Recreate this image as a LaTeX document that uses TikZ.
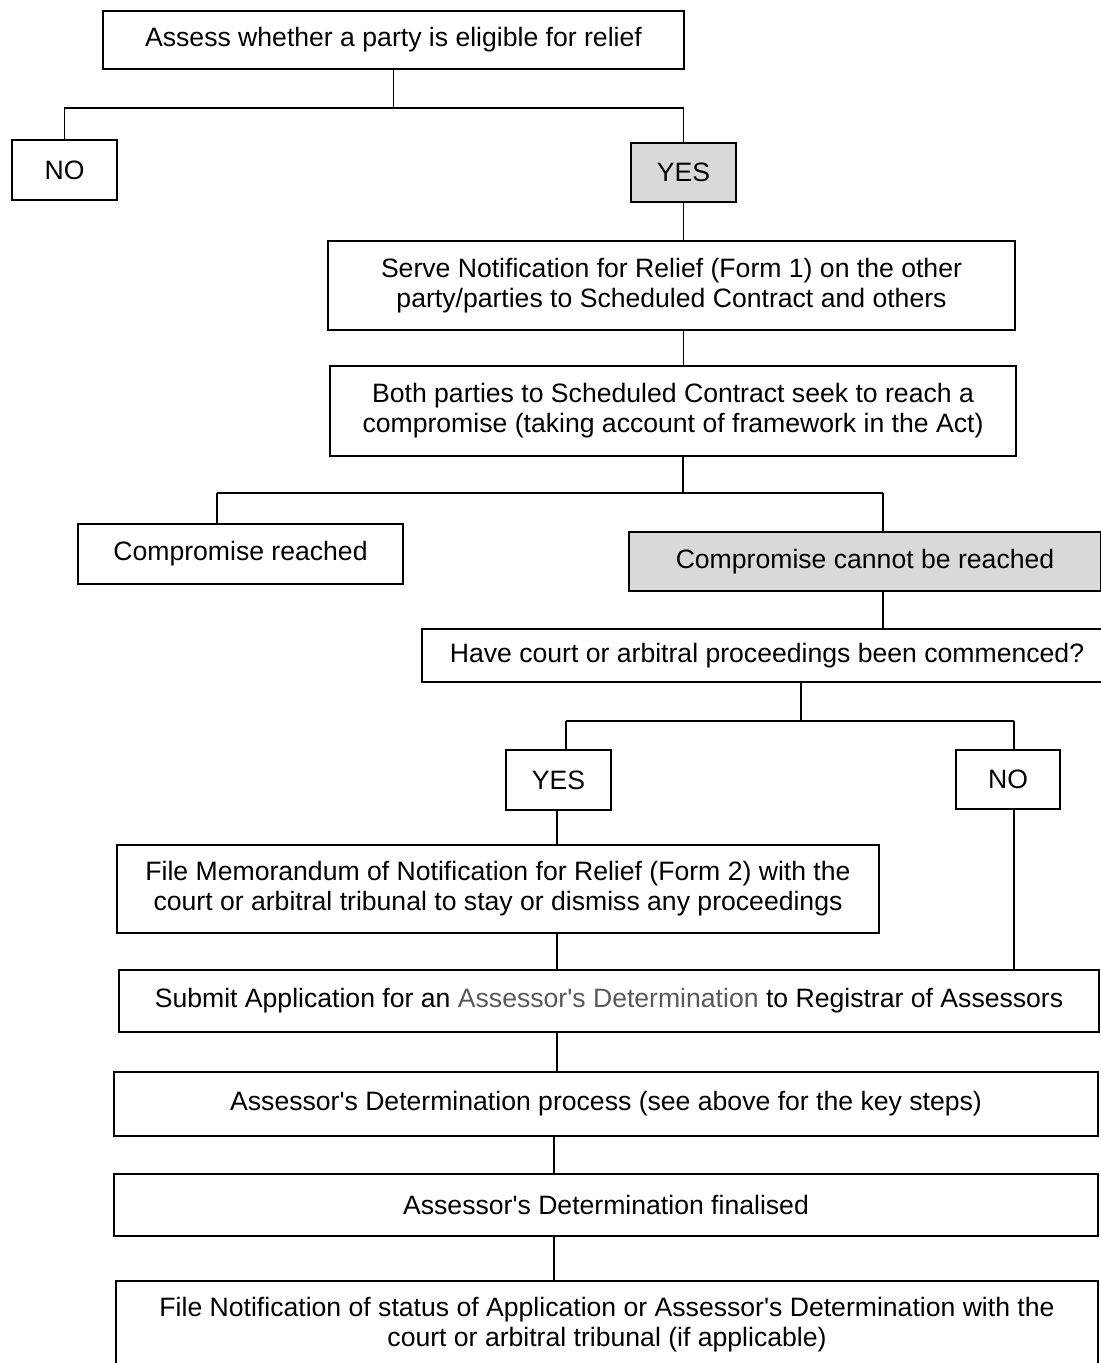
\documentclass[tikz,border=0pt]{standalone}
\usepackage{fontspec}
\newfontfamily\arial{Liberation Sans}
\definecolor{boxgray}{HTML}{D9D9D9}
\definecolor{textgray}{HTML}{595959}
\begin{document}
\begin{tikzpicture}[x=0.5pt, y=-0.5pt]
        \tikzstyle{box}=[draw=black, line width=1.2pt, inner sep=0pt, align=center, font=\arial\fontsize{13.3}{15}\selectfont]
        \tikzstyle{grey}=[box, fill=boxgray]
        \tikzstyle{link}=[line width=0.65pt]

        \useasboundingbox (0,0) rectangle (1101,1363);

        \node (assess)[box, minimum width=290.5pt, minimum height=29pt] at (393.5,40) {Assess whether a party is eligible for relief};
        \node (no1)[box, minimum width=52.5pt, minimum height=30pt] at (64.5,170) {NO};
        \node (yes1)[grey, minimum width=52.5pt, minimum height=29.5pt] at (683.5,172.5) {YES};
        \node (serve)[box, minimum width=343.5pt, minimum height=44.5pt] at (671.5,285.5) {Serve Notification for Relief (Form 1) on the other\\party/parties to Scheduled Contract and others};
        \node (both)[box, minimum width=343pt, minimum height=45pt] at (673,411) {Both parties to Scheduled Contract seek to reach a\\compromise (taking account of framework in the Act)};
        \node (reached)[box, minimum width=162.5pt, minimum height=30pt] at (240.5,554) {Compromise reached};
        \node (cannot)[grey, minimum width=236pt, minimum height=29.5pt] at (865,561.5) {Compromise cannot be reached};
        \node (court)[box, minimum width=345pt, minimum height=26.5pt] at (767,655.5) {Have court or arbitral proceedings been commenced?};
        \node (yes2)[box, minimum width=52.5pt, minimum height=30pt] at (558.5,780) {YES};
        \node (no2)[box, minimum width=52pt, minimum height=29.5pt] at (1008,779.5) {NO};
        \node (memo)[box, minimum width=381pt, minimum height=44pt] at (498,889) {File Memorandum of Notification for Relief (Form 2) with the\\court or arbitral tribunal to stay or dismiss any proceedings};
        \node (submit)[box, minimum width=490pt, minimum height=31pt] at (609,1001) {Submit Application for an \textcolor{textgray}{Assessor's Determination} to Registrar of Assessors};
        \node (process)[box, minimum width=492pt, minimum height=32pt] at (606,1104) {Assessor's Determination process (see above for the key steps)};
        \node (final)[box, minimum width=492pt, minimum height=31pt] at (606,1205) {Assessor's Determination finalised};
        \node (last)[box, minimum width=491pt, minimum height=44pt] at (607,1325) {File Notification of status of Application or Assessor's Determination with the\\court or arbitral tribunal (if applicable)};

        \coordinate (j1) at (393.5,108);
        \coordinate (j2) at (683,493);
        \coordinate (j2l) at (217,493);
        \coordinate (j2r) at (883,493);
        \coordinate (j3) at (801,721);
        \coordinate (j3l) at (566,721);
        \coordinate (j3r) at (1014,721);
        \coordinate (m1) at (557,0);
        \coordinate (m2) at (554,0);

        \draw[link] (assess.south) -- (j1);
        \draw[link] (no1.north) |- (j1) -| (yes1.north);
        \draw[link] (yes1.south) -- (yes1.south |- serve.north);
        \draw[link] (serve.south -| yes1) -- (both.north -| yes1);
        \draw[link] (both.south -| j2) -- (j2);
        \draw[link] (j2l) -- (j2r);
        \draw[link] (j2l) -- (j2l |- reached.north);
        \draw[link] (j2r) -- (j2r |- cannot.north);
        \draw[link] (j2r |- cannot.south) -- (j2r |- court.north);
        \draw[link] (j3 |- court.south) -- (j3);
        \draw[link] (j3l) -- (j3r);
        \draw[link] (j3l) -- (j3l |- yes2.north);
        \draw[link] (j3r) -- (j3r |- no2.north);
        \draw[link] (j3r |- no2.south) -- (j3r |- submit.north);
        \draw[link] (yes2.south -| m1) -- (memo.north -| m1);
        \draw[link] (memo.south -| m1) -- (submit.north -| m1);
        \draw[link] (submit.south -| m1) -- (process.north -| m1);
        \draw[link] (process.south -| m2) -- (final.north -| m2);
        \draw[link] (final.south -| m2) -- (last.north -| m2);
    \end{tikzpicture}
\end{document}
